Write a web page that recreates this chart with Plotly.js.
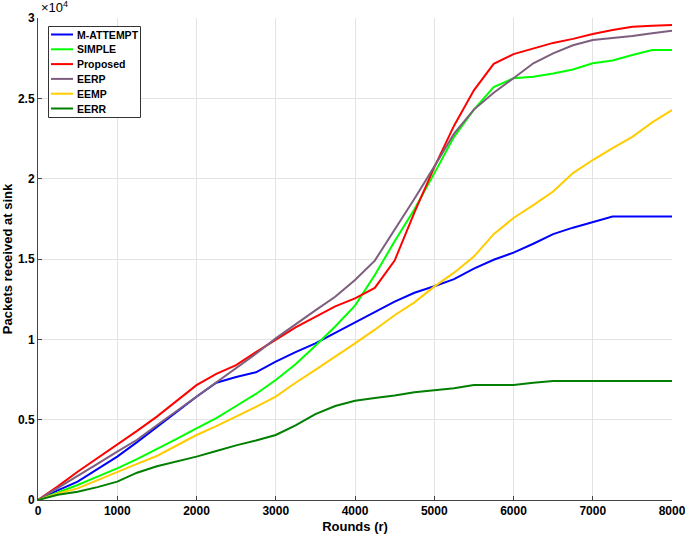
<!DOCTYPE html>
<html>
<head>
<meta charset="utf-8">
<script src="https://cdn.plot.ly/plotly-3.0.1.min.js"></script>
<style>
  html, body { margin: 0; padding: 0; background: #fff; }
  #chart { width: 685px; height: 539px; }
</style>
</head>
<body>
<div id="chart"></div>
<script>
// rounds sampled every 250
var rounds = [
    0, 250, 500, 750, 1000, 1250, 1500, 1750, 2000, 2250, 2500, 2750, 3000,
    3250, 3500, 3750, 4000, 4250, 4500, 4750, 5000, 5250, 5500, 5750, 6000,
    6250, 6500, 6750, 7000, 7250, 7500, 7750, 8000,
];

var mAttempt = [
    0, 600, 1140, 1900, 2700, 3600, 4550, 5500, 6430, 7300, 7650, 7950, 8610,
    9200, 9750, 10400, 11050, 11700, 12350, 12900, 13300, 13750, 14400, 14950,
    15400, 15950, 16550, 16950, 17320, 17650, 17650, 17650, 17650,
];
var simple = [
    0, 450, 935, 1450, 1970, 2550, 3150, 3800, 4460, 5100, 5850, 6600, 7470,
    8450, 9600, 10800, 12100, 14000, 16100, 18100, 20330, 22600, 24300, 25700,
    26250, 26350, 26550, 26800, 27180, 27350, 27700, 28010, 28010,
];
var proposed = [
    0, 850, 1760, 2600, 3420, 4300, 5190, 6150, 7150, 7850, 8400, 9200, 10000,
    10750, 11400, 12050, 12550, 13200, 14900, 17900, 20700, 23300, 25500, 27150,
    27750, 28100, 28450, 28700, 29000, 29250, 29450, 29520, 29560,
];
var eerp = [
    0, 750, 1450, 2250, 3010, 3750, 4650, 5550, 6430, 7300, 8200, 9100, 10060,
    10950, 11800, 12650, 13700, 14900, 16800, 18750, 20750, 22800, 24300, 25350,
    26250, 27180, 27800, 28300, 28630, 28750, 28880, 29050, 29210,
];
var eemp = [
    0, 400, 725, 1250, 1760, 2250, 2740, 3400, 4045, 4600, 5190, 5800, 6430,
    7300, 8100, 8900, 9750, 10600, 11500, 12300, 13280, 14150, 15150, 16550,
    17550, 18350, 19200, 20350, 21160, 21900, 22600, 23500, 24270,
];
var eerr = [
    0, 330, 520, 800, 1140, 1700, 2100, 2400, 2700, 3050, 3400, 3700, 4045,
    4650, 5350, 5850, 6180, 6350, 6500, 6700, 6840, 6950, 7160, 7160, 7160,
    7300, 7400, 7400, 7400, 7400, 7400, 7400, 7400,
];

var seriesNames = ["M-ATTEMPT", "SIMPLE", "Proposed", "EERP", "EEMP", "EERR"];
var seriesValues = [mAttempt, simple, proposed, eerp, eemp, eerr];
var seriesColors = ["#0000ff", "#00ff00", "#ff0000", "#7e5e7e", "#ffcc00", "#007f00"];

var yTickVals = [0, 5000, 10000, 15000, 20000, 25000, 30000];
var yTickText = ["0", "0.5", "1", "1.5", "2", "2.5", "3"];
var xTickVals = [0, 1000, 2000, 3000, 4000, 5000, 6000, 7000, 8000];

var FONT = "Arial, 'Liberation Sans', sans-serif";

var data = seriesNames.map(function (name, i) {
    return {
        x: rounds, y: seriesValues[i], name: name,
        type: "scatter", mode: "lines",
        line: { color: seriesColors[i], width: 2 },
        showlegend: false,
    };
});

// legend drawn as a compact boxed list (MATLAB style rows)
var plotW = 634, plotH = 482;
function px2x(px) { return (px - 38) / plotW; }
function py2y(py) { return (500 - py) / plotH; }

var shapes = [{
    type: "rect", xref: "paper", yref: "paper",
    x0: px2x(48.5), x1: px2x(140.5), y0: py2y(117.5), y1: py2y(26.5),
    fillcolor: "#fff", line: { color: "#333", width: 1 }, layer: "above",
}];
var annotations = [{
    text: "×10<sup>4</sup>", xref: "paper", yref: "paper",
    x: px2x(39), y: py2y(17), xanchor: "left", yanchor: "bottom",
    showarrow: false,
    font: { family: FONT, size: 13, color: "#000" },
}];
seriesNames.forEach(function (name, i) {
    var rowY = 34.5 + i * 14.8;
    shapes.push({
        type: "line", xref: "paper", yref: "paper",
        x0: px2x(51), x1: px2x(73), y0: py2y(rowY), y1: py2y(rowY),
        line: { color: seriesColors[i], width: 2 }, layer: "above",
    });
    annotations.push({
        text: name, xref: "paper", yref: "paper",
        x: px2x(74.5), y: py2y(rowY), xanchor: "left", yanchor: "middle",
        showarrow: false,
        font: { family: FONT, size: 10.5, color: "#000", weight: "bold" },
    });
});

var tickFont = { family: FONT, size: 12, color: "#000", weight: "bold" };

var layout = {
    width: 685, height: 539,
    margin: { l: 38, r: 13, t: 18, b: 39 },
    paper_bgcolor: "#fff",
    plot_bgcolor: "#fff",
    font: { family: FONT, color: "#000" },
    showlegend: false,
    xaxis: {
        range: [0, 8000],
        tickvals: xTickVals,
        ticks: "inside", ticklen: 4, tickcolor: "#444",
        showline: true, linecolor: "#444", linewidth: 1,
        showgrid: true, gridcolor: "#e3e3e3",
        zeroline: false,
        ticklabeloverflow: "allow",
        tickfont: tickFont,
        title: { text: "Rounds (r)", font: { size: 13, weight: "bold" }, standoff: 4 },
    },
    yaxis: {
        range: [0, 30000],
        tickvals: yTickVals, ticktext: yTickText,
        ticks: "inside", ticklen: 4, tickcolor: "#444",
        showline: true, linecolor: "#444", linewidth: 1,
        showgrid: true, gridcolor: "#e3e3e3",
        zeroline: false,
        tickfont: tickFont,
        title: { text: "Packets received at sink", font: { size: 13, weight: "bold" }, standoff: 2 },
    },
    shapes: shapes,
    annotations: annotations,
};

Plotly.newPlot("chart", data, layout, { displayModeBar: false, staticPlot: true });
</script>
</body>
</html>
